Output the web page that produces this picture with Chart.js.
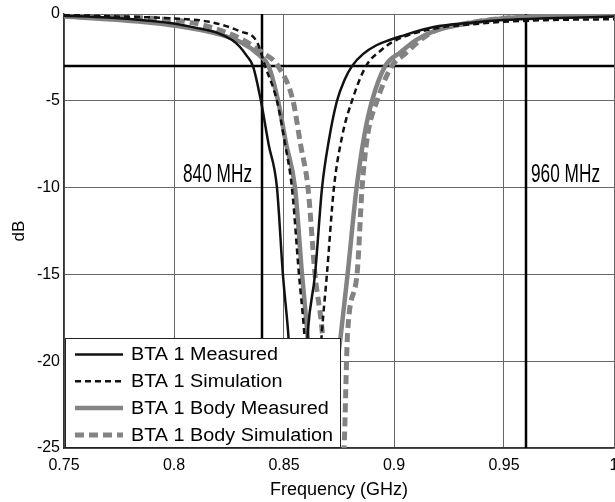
<!DOCTYPE html>
<html>
<head>
<meta charset="utf-8">
<script src="https://cdn.jsdelivr.net/npm/chart.js@4.4.0/dist/chart.umd.min.js"></script>
<style>
  body { margin: 0; background: #fff; }
  #wrap { width: 615px; height: 502px; }
</style>
</head>
<body>
<div id="wrap"><canvas id="chart" width="615" height="502"></canvas></div>
<script>
// series labels
var seriesNames = ['BTA 1 Measured', 'BTA 1 Simulation', 'BTA 1 Body Measured', 'BTA 1 Body Simulation'];

// BTA 1 Measured
var measFreq = [0.75, 0.77, 0.79, 0.80, 0.81, 0.82, 0.8264, 0.83, 0.833, 0.8359, 0.8395, 0.843, 0.8468, 0.8495, 0.8518, 0.8545, 0.8564, 0.8585, 0.8609, 0.8641, 0.8673, 0.8705, 0.8741, 0.8775, 0.8809, 0.886, 0.892, 0.898, 0.9027, 0.918, 0.935, 0.95, 0.97, 1.0];
var measDb   = [-0.1, -0.2, -0.4, -0.55, -0.8, -1.1, -1.5, -1.9, -2.4, -3, -5, -7.5, -10, -15, -18.2, -23, -27, -24, -18.2, -15, -10, -7.2, -5, -3.8, -3, -2.3, -1.8, -1.5, -1.3, -0.75, -0.5, -0.35, -0.25, -0.15];

// BTA 1 Simulation
var simFreq = [0.75, 0.77, 0.798, 0.816, 0.83, 0.8377, 0.8414, 0.8468, 0.8505, 0.8536, 0.8568, 0.8591, 0.861, 0.8632, 0.8652, 0.8673, 0.8695, 0.8727, 0.8765, 0.8809, 0.8873, 0.894, 0.901, 0.918, 0.935, 0.95, 0.97, 1.0];
var simDb   = [-0.05, -0.12, -0.25, -0.45, -1.0, -1.6, -3, -5, -7.5, -10, -15, -18.2, -22, -24.5, -22, -18.2, -15, -10, -7, -5, -3, -2.1, -1.5, -0.85, -0.6, -0.45, -0.35, -0.3];

// BTA 1 Body Measured
var bodyMeasFreq = [0.75, 0.77, 0.798, 0.815, 0.83, 0.839, 0.843, 0.8473, 0.851, 0.855, 0.8582, 0.8605, 0.8635, 0.8668, 0.8705, 0.8759, 0.8789, 0.883, 0.8865, 0.89, 0.896, 0.903, 0.91, 0.918, 0.935, 0.95, 0.97, 1.0];
var bodyMeasDb   = [-0.15, -0.3, -0.63, -1.0, -1.6, -2.4, -3, -5, -7.5, -10, -15, -18.2, -23, -28, -24, -18.4, -15, -10, -7, -5, -3, -2.2, -1.5, -1.0, -0.5, -0.25, -0.12, -0.05];

// BTA 1 Body Simulation
var bodySimFreq = [0.75, 0.78, 0.80, 0.815, 0.83, 0.84, 0.8473, 0.8541, 0.8575, 0.8609, 0.8641, 0.8673, 0.870, 0.8727, 0.8755, 0.8773, 0.8789, 0.8832, 0.8855, 0.888, 0.8923, 0.899, 0.905, 0.912, 0.918, 0.935, 0.95, 0.97, 1.0];
var bodySimDb   = [-0.1, -0.2, -0.35, -0.7, -1.4, -2.2, -3, -5, -7.5, -10, -15, -18.2, -23, -28, -27, -25, -18.4, -15, -10, -7, -5, -3, -2.3, -1.5, -1.0, -0.5, -0.25, -0.12, -0.05];

// axes
var xTicks = [0.75, 0.8, 0.85, 0.9, 0.95, 1];
var yTicks = [0, -5, -10, -15, -20, -25];

// reference lines
var markerFreqs = [0.84, 0.96];
var markerLabels = ['840 MHz', '960 MHz'];
var halfPowerDb = -3;

function toPoints(xs, ys) {
  return xs.map(function (x, i) { return { x: x, y: ys[i] }; });
}

var black = '#111111';
var grey = '#838383';

var datasets = [
  { label: seriesNames[0], data: toPoints(measFreq, measDb), borderColor: black, borderWidth: 2.5, order: 1 },
  { label: seriesNames[1], data: toPoints(simFreq, simDb), borderColor: black, borderWidth: 2.5, borderDash: [6, 4], order: 0 },
  { label: seriesNames[2], data: toPoints(bodyMeasFreq, bodyMeasDb), borderColor: grey, borderWidth: 4.5, order: 3 },
  { label: seriesNames[3], data: toPoints(bodySimFreq, bodySimDb), borderColor: grey, borderWidth: 5, borderDash: [9, 5], order: 2 }
];

// -3 dB line and the two band edges
datasets.push({ label: '', data: [{ x: xTicks[0], y: halfPowerDb }, { x: xTicks[xTicks.length - 1], y: halfPowerDb }], borderColor: '#000', borderWidth: 2.5, order: 5 });
markerFreqs.forEach(function (f) {
  datasets.push({ label: '', data: [{ x: f, y: yTicks[0] }, { x: f, y: yTicks[yTicks.length - 1] }], borderColor: '#000', borderWidth: 2.5, order: 5 });
});

var markerText = {
  id: 'markerText',
  afterDatasetsDraw: function (chart) {
    var ctx = chart.ctx;
    var xs = chart.scales.x, ys = chart.scales.y;
    ctx.save();
    ctx.fillStyle = '#000';
    ctx.font = '26px "Liberation Sans Narrow", "Liberation Sans", Arial, sans-serif';
    ctx.textBaseline = 'alphabetic';
    markerFreqs.forEach(function (f, i) {
      var px = xs.getPixelForValue(f);
      var py = ys.getPixelForValue(-9.7);
      ctx.save();
      if (i === 0) {
        ctx.translate(px - 10, py);
        ctx.textAlign = 'right';
      } else {
        ctx.translate(px + 5, py);
        ctx.textAlign = 'left';
      }
      ctx.scale(69 / ctx.measureText(markerLabels[i]).width, 1);
      ctx.fillText(markerLabels[i], 0, 0);
      ctx.restore();
    });
    ctx.restore();
  }
};

var boxLegend = {
  id: 'boxLegend',
  afterDatasetsDraw: function (chart) {
    var ctx = chart.ctx, area = chart.chartArea;
    var left = area.left + 1, w = 276, h = 110, top = area.bottom - h;
    ctx.save();
    ctx.fillStyle = '#fff';
    ctx.fillRect(left, top, w, h);
    ctx.strokeStyle = '#222';
    ctx.lineWidth = 1;
    ctx.strokeRect(left + 0.5, top + 0.5, w - 1, h - 1);
    ctx.font = '18px "Liberation Sans", Arial, sans-serif';
    ctx.textBaseline = 'middle';
    for (var i = 0; i < 4; i++) {
      var ds = chart.data.datasets[i];
      var y = top + 16.5 + i * 26.8;
      ctx.beginPath();
      ctx.strokeStyle = ds.borderColor;
      ctx.lineWidth = ds.borderWidth;
      ctx.setLineDash(ds.borderDash || []);
      ctx.moveTo(left + 10, y);
      ctx.lineTo(left + 58, y);
      ctx.stroke();
      ctx.setLineDash([]);
      ctx.fillStyle = '#000';
      ctx.save();
      ctx.translate(left + 66, y + 1);
      ctx.scale(1.1, 1);
      ctx.fillText(ds.label, 0, 0);
      ctx.restore();
    }
    ctx.restore();
  }
};

var ctx = document.getElementById('chart').getContext('2d');
var chart = new Chart(ctx, {
  type: 'line',
  data: { datasets: datasets },
  options: {
    responsive: false,
    animation: false,
    devicePixelRatio: 1,
    layout: { padding: { top: 14, right: 1, left: 0, bottom: 0 } },
    elements: {
      point: { radius: 0 },
      line: { cubicInterpolationMode: 'monotone', fill: false }
    },
    plugins: {
      legend: { display: false },
      tooltip: { enabled: false }
    },
    scales: {
      x: {
        type: 'linear',
        min: xTicks[0],
        max: xTicks[xTicks.length - 1],
        afterBuildTicks: function (scale) {
          scale.ticks = xTicks.map(function (v) { return { value: v }; });
        },
        afterFit: function (scale) {
          scale.height = 54;
          scale.paddingLeft = 0;
          scale.paddingRight = 0;
        },
        grid: { color: '#666', lineWidth: 1, drawTicks: false },
        border: { color: '#333', width: 1.5 },
        ticks: {
          color: '#000',
          padding: 8,
          maxRotation: 0,
          font: { family: '"Liberation Sans", Arial, sans-serif', size: 16 },
          callback: function (v) { return String(Math.round(v * 100) / 100); }
        },
        title: {
          display: true,
          text: 'Frequency (GHz)',
          color: '#000',
          font: { family: '"Liberation Sans", Arial, sans-serif', size: 18 },
          padding: { top: 0, bottom: 1 }
        }
      },
      y: {
        type: 'linear',
        min: yTicks[yTicks.length - 1],
        max: yTicks[0],
        afterBuildTicks: function (scale) {
          scale.ticks = yTicks.map(function (v) { return { value: v }; });
        },
        afterFit: function (scale) {
          scale.width = 64;
          scale.paddingTop = 0;
          scale.paddingBottom = 0;
        },
        grid: { color: '#666', lineWidth: 1, drawTicks: false },
        border: { color: '#333', width: 1.5 },
        ticks: {
          color: '#000',
          padding: 4,
          font: { family: '"Liberation Sans", Arial, sans-serif', size: 16 }
        },
        title: {
          display: true,
          text: 'dB',
          color: '#000',
          font: { family: '"Liberation Sans", Arial, sans-serif', size: 17 },
          padding: { top: 9, bottom: 0 }
        }
      }
    }
  },
  plugins: [markerText, boxLegend]
});
</script>
</body>
</html>
